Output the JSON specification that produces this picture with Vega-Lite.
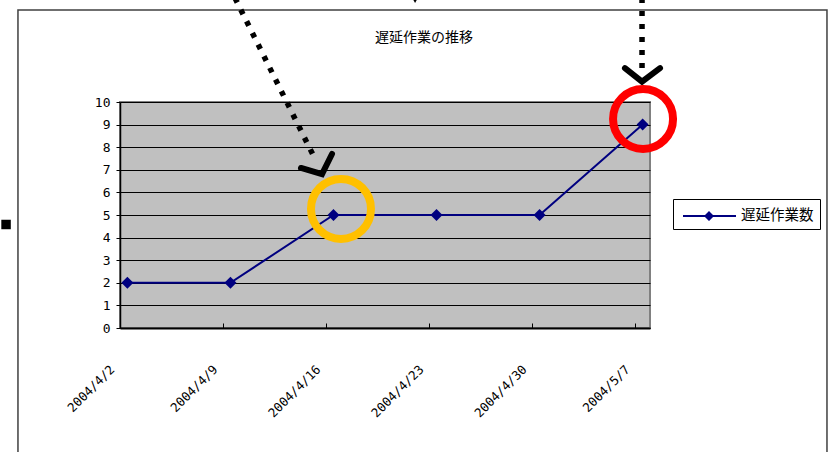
{
  "$schema": "https://vega.github.io/schema/vega-lite/v6.json",
  "width": 530,
  "height": 226,
  "autosize": {"type": "none"},
  "padding": {"left": 120, "top": 102, "right": 180, "bottom": 124},
  "background": "#FFFFFF",
  "view": {"fill": "#C0C0C0", "stroke": "#808080", "strokeWidth": 2},
  "datasets": {
    "series": [
      {"date": "2004-04-02T12:00", "count": 2},
      {"date": "2004-04-09T12:00", "count": 2},
      {"date": "2004-04-16T12:00", "count": 5},
      {"date": "2004-04-23T12:00", "count": 5},
      {"date": "2004-04-30T12:00", "count": 5},
      {"date": "2004-05-07T12:00", "count": 9}
    ],
    "dots": [
      {"g": "a", "i": 0, "t": "2004-04-09T19:30", "v": 14.6},
      {"g": "a", "i": 1, "t": "2004-04-15T04:20", "v": 7.57},
      {"g": "b", "i": 0, "t": "2004-05-07T11:00", "v": 14.6},
      {"g": "b", "i": 1, "t": "2004-05-07T11:00", "v": 11.3}
    ],
    "chevrons": [
      {"g": "a", "i": 0, "t": "2004-04-14T07:00", "v": 7.08},
      {"g": "a", "i": 1, "t": "2004-04-15T17:20", "v": 6.81},
      {"g": "a", "i": 2, "t": "2004-04-16T09:36", "v": 7.7},
      {"g": "b", "i": 0, "t": "2004-05-06T07:10", "v": 11.5},
      {"g": "b", "i": 1, "t": "2004-05-07T11:00", "v": 10.9},
      {"g": "b", "i": 2, "t": "2004-05-08T16:20", "v": 11.5}
    ],
    "circles": [
      {"name": "yellow", "t": "2004-04-17T00:15", "v": 5.27},
      {"name": "red", "t": "2004-05-07T12:40", "v": 9.25}
    ],
    "square": [{"t": "2004-03-25T06:15", "v": 4.58}],
    "tip": [{"t": "2004-04-22T01:00", "v": 14.47}],
    "frame": [{"t1": "2004-03-26T01:40", "t2": "2004-05-20T00:30", "v1": 14.07, "v2": -6.3}],
    "title": [{"t": "2004-04-22T15:30", "v": 12.85, "text": "遅延作業の推移"}]
  },
  "resolve": {"axis": {"x": "independent", "y": "independent"}},
  "layer": [
    {
      "data": {"name": "series"},
      "mark": {"type": "line", "color": "#000080", "strokeWidth": 2, "clip": false},
      "encoding": {
        "x": {
          "field": "date",
          "type": "temporal",
          "scale": {"domain": [{"year": 2004, "month": 4, "date": 2}, {"year": 2004, "month": 5, "date": 8}]},
          "axis": {
            "title": null,
            "values": [
              {"year": 2004, "month": 4, "date": 2},
              {"year": 2004, "month": 4, "date": 9},
              {"year": 2004, "month": 4, "date": 16},
              {"year": 2004, "month": 4, "date": 23},
              {"year": 2004, "month": 4, "date": 30},
              {"year": 2004, "month": 5, "date": 7}
            ],
            "tickCount": 20,
            "format": "%Y/%-m/%-d",
            "labelAngle": -45,
            "labelAlign": "right",
            "labelBaseline": "middle",
            "labelFont": "DejaVu Sans Mono",
            "labelFontSize": 12.5,
            "labelColor": "#000000",
            "labelPadding": 44,
            "labelOffset": -8,
            "labelOverlap": false,
            "labelFlush": false,
            "labelBound": false,
            "tickSize": -5,
            "tickColor": "#000000",
            "tickWidth": 1,
            "domainColor": "#000000",
            "domainWidth": 2,
            "grid": false
          }
        },
        "y": {
          "field": "count",
          "type": "quantitative",
          "scale": {"domain": [0, 10], "nice": false},
          "axis": {
            "title": null,
            "values": [0, 1, 2, 3, 4, 5, 6, 7, 8, 9, 10],
            "tickCount": 20,
            "format": "d",
            "labelOverlap": false,
            "labelFont": "DejaVu Sans Mono",
            "labelFontSize": 13,
            "labelColor": "#000000",
            "labelPadding": 6,
            "tickSize": 4,
            "tickColor": "#000000",
            "domainColor": "#000000",
            "domainWidth": 1.5,
            "grid": true,
            "gridColor": "#000000",
            "gridWidth": 1,
            "gridOpacity": 1
          }
        }
      }
    },
    {
      "data": {"name": "frame"},
      "mark": {"type": "rect", "fill": null, "stroke": "#404040", "strokeWidth": 1.5, "clip": false},
      "encoding": {
        "x": {"field": "t1", "type": "temporal", "axis": null},
        "x2": {"field": "t2"},
        "y": {"field": "v1", "type": "quantitative", "axis": null},
        "y2": {"field": "v2"}
      }
    },
    {
      "data": {"name": "title"},
      "mark": {"type": "text", "font": "Noto Sans CJK JP", "fontSize": 14, "color": "#000000", "align": "center", "baseline": "middle", "clip": false},
      "encoding": {
        "x": {"field": "t", "type": "temporal", "axis": null},
        "y": {"field": "v", "type": "quantitative", "axis": null},
        "text": {"field": "text"}
      }
    },
    {
      "data": {"name": "series"},
      "mark": {"type": "point", "shape": "diamond", "filled": true, "size": 144, "opacity": 1, "clip": false},
      "encoding": {
        "x": {"field": "date", "type": "temporal", "axis": null},
        "y": {"field": "count", "type": "quantitative", "axis": null},
        "color": {
          "datum": "遅延作業数",
          "scale": {"range": ["#000080"]},
          "legend": {
            "title": null,
            "orient": "none",
            "legendX": 553,
            "legendY": 97,
            "padding": 6,
            "strokeColor": "#000000",
            "fillColor": "#FFFFFF",
            "symbolType": "M -0.7 -0.1 L 4.6 -0.1 L 4.6 0.1 L -0.7 0.1 Z M 1.4 0 L 1.9 -0.5 L 2.4 0 L 1.9 0.5 Z",
            "symbolSize": 400,
            "labelFont": "Noto Sans CJK JP",
            "labelFontSize": 14.5,
            "labelColor": "#000000",
            "labelOffset": 40,
            "encode": {
              "symbols": {
                "update": {
                  "shape": {"value": "M -0.7 -0.1 L 4.6 -0.1 L 4.6 0.1 L -0.7 0.1 Z M 1.4 0 L 1.9 -0.5 L 2.4 0 L 1.9 0.5 Z"},
                  "size": {"value": 400},
                  "fill": {"value": "#000080"},
                  "fillOpacity": {"value": 1},
                  "opacity": {"value": 1}
                }
              }
            }
          }
        }
      }
    },
    {
      "data": {"name": "dots"},
      "mark": {"type": "line", "color": "#000000", "strokeWidth": 5.5, "strokeDash": [5, 8], "strokeCap": "butt", "clip": false},
      "encoding": {
        "x": {"field": "t", "type": "temporal", "axis": null},
        "y": {"field": "v", "type": "quantitative", "axis": null},
        "detail": {"field": "g"},
        "order": {"field": "i"}
      }
    },
    {
      "data": {"name": "chevrons"},
      "mark": {"type": "line", "color": "#000000", "strokeWidth": 6, "strokeCap": "round", "strokeJoin": "miter", "clip": false},
      "encoding": {
        "x": {"field": "t", "type": "temporal", "axis": null},
        "y": {"field": "v", "type": "quantitative", "axis": null},
        "detail": {"field": "g"},
        "order": {"field": "i"}
      }
    },
    {
      "data": {"name": "circles"},
      "mark": {"type": "point", "shape": "circle", "filled": false, "size": 3600, "strokeWidth": 8, "opacity": 1, "clip": false},
      "encoding": {
        "x": {"field": "t", "type": "temporal", "axis": null},
        "y": {"field": "v", "type": "quantitative", "axis": null},
        "stroke": {
          "field": "name",
          "type": "nominal",
          "scale": {"domain": ["yellow", "red"], "range": ["#FFC000", "#FF0000"]},
          "legend": null
        }
      }
    },
    {
      "data": {"name": "square"},
      "mark": {"type": "point", "shape": "square", "filled": true, "size": 90, "color": "#000000", "opacity": 1, "clip": false},
      "encoding": {
        "x": {"field": "t", "type": "temporal", "axis": null},
        "y": {"field": "v", "type": "quantitative", "axis": null}
      }
    },
    {
      "data": {"name": "tip"},
      "mark": {"type": "point", "shape": "triangle-down", "filled": true, "size": 20, "color": "#000000", "opacity": 1, "clip": false},
      "encoding": {
        "x": {"field": "t", "type": "temporal", "axis": null},
        "y": {"field": "v", "type": "quantitative", "axis": null}
      }
    }
  ]
}
